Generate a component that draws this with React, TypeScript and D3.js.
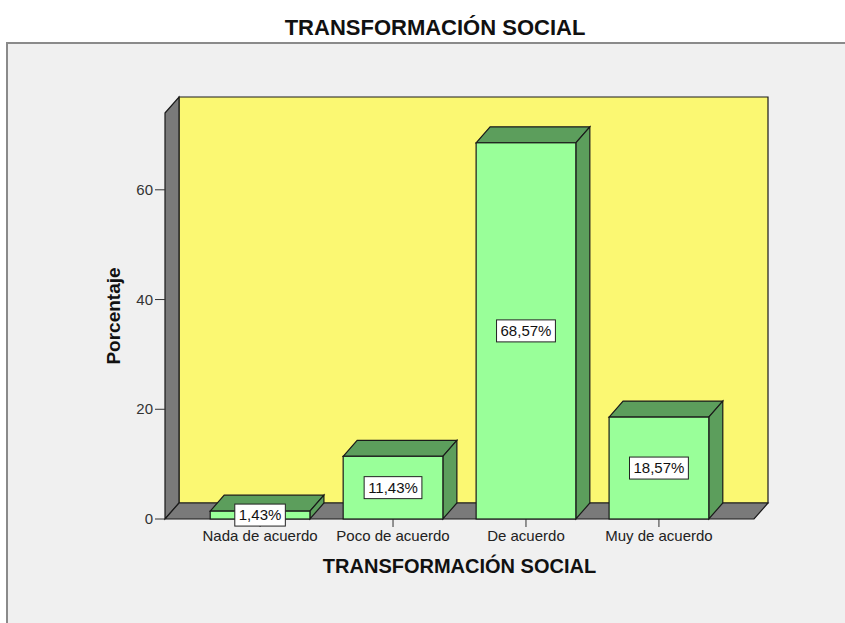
import React, { useRef, useEffect } from 'react';
import * as d3 from 'd3';

// data
const categories = ['Nada de acuerdo', 'Poco de acuerdo', 'De acuerdo', 'Muy de acuerdo'];
const percents = [1.43, 11.43, 68.57, 18.57];
const yTicks = [0, 20, 40, 60];
const chartTitle = 'TRANSFORMACIÓN SOCIAL';
const xTitle = 'TRANSFORMACIÓN SOCIAL';
const yTitle = 'Porcentaje';

const FONT = '"Liberation Sans", Arial, sans-serif';

function App() {
    const svgRef = useRef<SVGSVGElement>(null);

    useEffect(() => {
        const w = 845;
        const h = 623;
        const svg = d3.select(svgRef.current)
            .attr('width', w)
            .attr('height', h);
        svg.selectAll('*').remove();

        // 3d depth offset
        const dx = 14;
        const dy = -16;

        const left = 165;
        const right = 754;

        const xScale = d3.scaleBand<string>()
            .domain(categories)
            .range([left, right])
            .paddingInner(0.25)
            .paddingOuter(0.34);

        const yScale = d3.scaleLinear()
            .domain([0, 74])
            .range([519, 113]);

        const y0 = yScale(0);
        const yTop = yScale(74);

        // outer panel
        svg.append('rect')
            .attr('x', 0).attr('y', 0).attr('width', w).attr('height', h)
            .attr('fill', '#ffffff');
        svg.append('rect')
            .attr('x', 7).attr('y', 43).attr('width', w + 10).attr('height', h)
            .attr('fill', '#f0f0f0')
            .attr('stroke', '#8a8a8a')
            .attr('stroke-width', 2);

        // title
        svg.append('text')
            .attr('x', 435).attr('y', 35)
            .attr('text-anchor', 'middle')
            .style('font-family', FONT)
            .style('font-size', '22px')
            .style('font-weight', 'bold')
            .attr('fill', '#111')
            .text(chartTitle);

        const line = (pts: [number, number][]) => d3.line()(pts) + 'Z';

        // walls
        svg.append('path')
            .attr('d', line([[left + dx, yTop + dy], [right + dx, yTop + dy], [right + dx, y0 + dy], [left + dx, y0 + dy]]))
            .attr('fill', '#fbf872')
            .attr('stroke', '#1a1a1a')
            .attr('stroke-width', 1.2);
        svg.append('path')
            .attr('d', line([[left, yTop], [left + dx, yTop + dy], [left + dx, y0 + dy], [left, y0]]))
            .attr('fill', '#7a7a7a')
            .attr('stroke', '#1a1a1a')
            .attr('stroke-width', 1.2);
        svg.append('path')
            .attr('d', line([[left, y0], [left + dx, y0 + dy], [right + dx, y0 + dy], [right, y0]]))
            .attr('fill', '#7a7a7a')
            .attr('stroke', '#1a1a1a')
            .attr('stroke-width', 1.2);

        // y axis
        const yAxis = svg.append('g');
        yTicks.forEach(t => {
            yAxis.append('line')
                .attr('x1', left - 10).attr('x2', left)
                .attr('y1', yScale(t)).attr('y2', yScale(t))
                .attr('stroke', '#333').attr('stroke-width', 1);
            yAxis.append('text')
                .attr('x', left - 12).attr('y', yScale(t) + 5)
                .attr('text-anchor', 'end')
                .style('font-family', FONT)
                .style('font-size', '15px')
                .attr('fill', '#333')
                .text(t);
        });

        svg.append('text')
            .attr('transform', `translate(120, 316) rotate(-90)`)
            .attr('text-anchor', 'middle')
            .style('font-family', FONT)
            .style('font-size', '19px')
            .style('font-weight', 'bold')
            .attr('fill', '#111')
            .text(yTitle);

        // x ticks and labels
        categories.forEach(c => {
            const cx = xScale(c)! + xScale.bandwidth() / 2;
            svg.append('line')
                .attr('x1', cx).attr('x2', cx)
                .attr('y1', y0).attr('y2', y0 + 8)
                .attr('stroke', '#333');
            svg.append('text')
                .attr('x', cx).attr('y', y0 + 22)
                .attr('text-anchor', 'middle')
                .style('font-family', FONT)
                .style('font-size', '15px')
                .attr('fill', '#222')
                .text(c);
        });

        svg.append('text')
            .attr('x', (left + right) / 2).attr('y', 573)
            .attr('text-anchor', 'middle')
            .style('font-family', FONT)
            .style('font-size', '20px')
            .style('font-weight', 'bold')
            .attr('fill', '#111')
            .text(xTitle);

        // bars
        const bars = svg.append('g');
        percents.forEach((v, i) => {
            const x0 = xScale(categories[i])!;
            const x1 = x0 + xScale.bandwidth();
            const yv = yScale(v);
            const g = bars.append('g');
            g.append('path')
                .attr('d', line([[x0, yv], [x0 + dx, yv + dy], [x1 + dx, yv + dy], [x1, yv]]))
                .attr('fill', '#5c9e5c')
                .attr('stroke', '#1a1a1a')
                .attr('stroke-width', 1.2);
            g.append('path')
                .attr('d', line([[x1, yv], [x1 + dx, yv + dy], [x1 + dx, y0 + dy], [x1, y0]]))
                .attr('fill', '#5c9e5c')
                .attr('stroke', '#1a1a1a')
                .attr('stroke-width', 1.2);
            g.append('rect')
                .attr('x', x0).attr('y', yv)
                .attr('width', x1 - x0).attr('height', y0 - yv)
                .attr('fill', '#99ff99')
                .attr('stroke', '#1a1a1a')
                .attr('stroke-width', 1.2);
        });

        // value labels
        percents.forEach((v, i) => {
            const cx = xScale(categories[i])! + xScale.bandwidth() / 2;
            const cy = (yScale(v) + y0) / 2;
            const lg = svg.append('g');
            const box = lg.append('rect');
            const txt = lg.append('text')
                .attr('x', cx).attr('y', cy + 5)
                .attr('text-anchor', 'middle')
                .style('font-family', FONT)
                .style('font-size', '15px')
                .attr('fill', '#111')
                .text(v.toFixed(2).replace('.', ',') + '%');
            const bb = (txt.node() as SVGTextElement).getBBox();
            box.attr('x', cx - bb.width / 2 - 4).attr('y', cy - 11)
                .attr('width', bb.width + 8).attr('height', 22)
                .attr('fill', '#ffffff')
                .attr('stroke', '#222')
                .attr('stroke-width', 1);
        });
    }, []);

    return (
        <div>
            <svg ref={svgRef} style={{ position: 'absolute', left: 0, top: 0 }}></svg>
        </div>
    );
}

export default App;
